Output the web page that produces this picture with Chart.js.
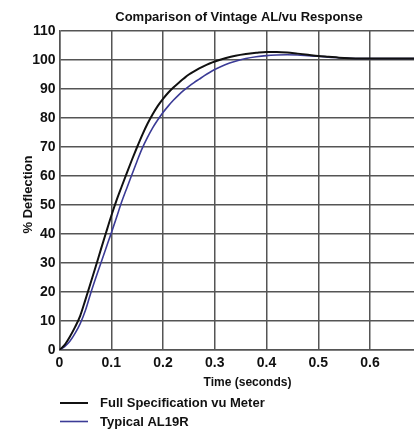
<!DOCTYPE html>
<html>
<head>
<meta charset="utf-8">
<script src="https://cdn.jsdelivr.net/npm/chart.js@4.4.1/dist/chart.umd.min.js"></script>
<style>
  html, body { margin: 0; padding: 0; background: #ffffff; }
  #wrap { position: relative; width: 414px; height: 430px; overflow: hidden; }
</style>
</head>
<body>
<div id="wrap"><canvas id="c"></canvas></div>
<script>
// ---- data ----
const chartTitle = 'Comparison of Vintage AL/vu Response';
const xAxisTitle = 'Time (seconds)';
const yAxisTitle = '% Deflection';
const seriesNames = ['Full Specification vu Meter', 'Typical AL19R'];

const xTickLabels = ['0', '0.1', '0.2', '0.3', '0.4', '0.5', '0.6'];
const yTickLabels = ['0', '10', '20', '30', '40', '50', '60', '70', '80', '90', '100', '110'];

const times = [0, 0.01, 0.02, 0.03, 0.04, 0.05, 0.06, 0.07, 0.08, 0.09,
               0.10, 0.11, 0.12, 0.13, 0.14, 0.15, 0.16, 0.17, 0.18, 0.19,
               0.20, 0.21, 0.22, 0.23, 0.24, 0.25, 0.26, 0.27, 0.28, 0.29,
               0.30, 0.32, 0.34, 0.36, 0.38, 0.40, 0.42, 0.44, 0.46, 0.48,
               0.50, 0.52, 0.54, 0.56, 0.58, 0.60, 0.65, 0.69];

const fullSpecValues = [0, 1.8, 4.6, 7.9, 11.8, 17.3, 23.0, 28.8, 34.7, 40.5,
                        46.2, 51.5, 56.3, 61.0, 65.6, 70.0, 74.2, 78.0, 81.3, 84.2,
                        86.6, 88.7, 90.5, 92.1, 93.6, 95.0, 96.1, 97.1, 98.0, 98.8,
                        99.5, 100.6, 101.5, 102.1, 102.5, 102.8, 102.8, 102.6, 102.2, 101.8,
                        101.4, 101.1, 100.8, 100.6, 100.5, 100.5, 100.5, 100.5];

const al19rValues = [0, 1.2, 3.0, 5.7, 9.1, 13.6, 19.4, 24.8, 30.0, 35.2,
                     40.3, 45.6, 51.0, 55.8, 60.5, 65.2, 69.6, 73.3, 76.6, 79.4,
                     81.9, 84.1, 86.1, 87.9, 89.5, 90.9, 92.2, 93.4, 94.6, 95.7,
                     96.7, 98.4, 99.6, 100.5, 101.1, 101.5, 101.7, 101.8, 101.7, 101.5,
                     101.3, 101.0, 100.8, 100.6, 100.5, 100.5, 100.5, 100.5];

const seriesColors = ['#111111', '#3b3b96'];

function toPoints(xs, ys) { return xs.map((x, i) => ({ x: x, y: ys[i] })); }

const FONT = "'Liberation Sans', Arial, sans-serif";

const overlay = {
  id: 'overlay',
  afterDraw(chart) {
    const ctx = chart.ctx;
    ctx.save();
    ctx.fillStyle = '#111111';
    ctx.textBaseline = 'middle';
    // title
    ctx.font = 'bold 13px ' + FONT;
    ctx.textAlign = 'center';
    ctx.fillText(chartTitle, 239, 17);
    // x axis title
    ctx.font = 'bold 12px ' + FONT;
    ctx.fillText(xAxisTitle, 247.5, 382.5);
    // y axis title
    ctx.save();
    ctx.translate(28, 194.5);
    ctx.rotate(-Math.PI / 2);
    ctx.font = 'bold 13px ' + FONT;
    ctx.fillText(yAxisTitle, 0, 0);
    ctx.restore();
    // legend
    ctx.font = 'bold 13px ' + FONT;
    ctx.textAlign = 'left';
    const rows = [403, 421.5];
    chart.data.datasets.forEach((ds, i) => {
      const y = rows[i];
      ctx.strokeStyle = ds.borderColor;
      ctx.lineWidth = ds.borderWidth;
      ctx.beginPath();
      ctx.moveTo(60, y);
      ctx.lineTo(88, y);
      ctx.stroke();
      ctx.fillStyle = '#111111';
      ctx.fillText(ds.label, 100, y + 0.5);
    });
    ctx.restore();
  }
};

new Chart(document.getElementById('c'), {
  type: 'line',
  data: {
    datasets: [
      {
        label: seriesNames[0],
        data: toPoints(times, fullSpecValues),
        borderColor: seriesColors[0],
        borderWidth: 2,
        pointRadius: 0,
        cubicInterpolationMode: 'monotone',
        fill: false,
        order: 0
      },
      {
        label: seriesNames[1],
        data: toPoints(times, al19rValues),
        borderColor: seriesColors[1],
        borderWidth: 1.6,
        pointRadius: 0,
        cubicInterpolationMode: 'monotone',
        fill: false,
        order: 1
      }
    ]
  },
  options: {
    responsive: true,
    maintainAspectRatio: false,
    animation: false,
    devicePixelRatio: 1,
    layout: { padding: { top: 31, right: 0, bottom: 0, left: 0 } },
    plugins: {
      legend: { display: false },
      title: { display: false },
      tooltip: { enabled: false }
    },
    scales: {
      x: {
        type: 'linear',
        min: 0,
        max: 0.685,
        afterFit(s) { s.height = 80; },
        border: { display: true, color: '#555555', width: 1.5 },
        grid: { color: '#555555', lineWidth: 1.5, drawTicks: false },
        ticks: {
          stepSize: 0.1,
          includeBounds: false,
          padding: 4.5,
          color: '#111111',
          font: { family: FONT, size: 14, weight: 'bold' },
          callback(v) {
            const i = Math.round(v * 10);
            return (Math.abs(v * 10 - i) < 1e-6 && i < xTickLabels.length) ? xTickLabels[i] : '';
          }
        }
      },
      y: {
        min: 0,
        max: 110,
        afterFit(s) { s.width = 59.5; },
        border: { display: true, color: '#555555', width: 1.5 },
        grid: { color: '#555555', lineWidth: 1.5, drawTicks: false },
        ticks: {
          stepSize: 10,
          padding: 4,
          color: '#111111',
          font: { family: FONT, size: 14, weight: 'bold' },
          callback(v) {
            const i = Math.round(v / 10);
            return yTickLabels[i] !== undefined ? yTickLabels[i] : '';
          }
        }
      }
    }
  },
  plugins: [overlay]
});
</script>
</body>
</html>
